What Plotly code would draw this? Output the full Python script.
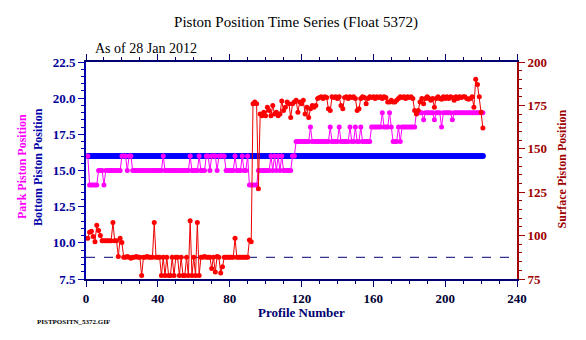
import plotly.graph_objects as go

# Profile numbers 1..221
profiles = list(range(1, 222))

# Park piston position (left axis)
park = [
    16, 14, 14, 14, 14, 14, 15, 15, 15, 14,
    15, 15, 15, 15, 15, 15, 15, 15, 15, 16,
    16, 16, 15, 16, 16, 15, 15, 15, 15, 15,
    15, 15, 15, 15, 15, 15, 15, 15, 15, 15,
    15, 15, 16, 15, 15, 15, 15, 15, 15, 15,
    15, 15, 15, 15, 15, 15, 15, 16, 15, 15,
    15, 15, 16, 15, 15, 15, 16, 16, 15, 16,
    16, 16, 15, 16, 16, 16, 16, 15, 15, 15,
    15, 15, 16, 15, 15, 15, 16, 15, 15, 16,
    14, 14, 14, 14, 14, 15, 15, 15, 15, 15,
    15, 15, 16, 15, 16, 15, 16, 15, 16, 15,
    15, 15, 15, 15, 16, 16, 17, 17, 17, 17,
    17, 17, 17, 17, 18, 17, 17, 17, 17, 17,
    17, 17, 17, 17, 17, 18, 17, 17, 17, 17,
    18, 17, 17, 17, 17, 17, 18, 17, 17, 18,
    17, 17, 18, 17, 17, 17, 17, 17, 18, 18,
    18, 18, 18, 18, 19, 18, 18, 18, 19, 18,
    17, 17, 17, 18, 17, 18, 18, 18, 18, 18,
    18, 18, 18, 19, 19, 19, 19, 18.5, 19, 19,
    19, 19, 19, 18.5, 19, 19, 19, 18, 19, 19,
    19, 19, 19, 18.5, 19, 19, 19, 19, 19, 19,
    19, 19, 19, 19, 19, 19, 19, 19, 19, 19,
    19,
]

# Bottom piston position (left axis)
bottom = [
    16, 16, 16, 16, 16, 16, 16, 16, 16, 16, 16, 16, 16, 16, 16, 16, 16,
    16, 16, 16, 16, 16, 16, 16, 16, 16, 16, 16, 16, 16, 16, 16, 16, 16,
    16, 16, 16, 16, 16, 16, 16, 16, 16, 16, 16, 16, 16, 16, 16, 16, 16,
    16, 16, 16, 16, 16, 16, 16, 16, 16, 16, 16, 16, 16, 16, 16, 16, 16,
    16, 16, 16, 16, 16, 16, 16, 16, 16, 16, 16, 16, 16, 16, 16, 16, 16,
    16, 16, 16, 16, 16, 16, 16, 16, 16, 16, 16, 16, 16, 16, 16, 16, 16,
    16, 16, 16, 16, 16, 16, 16, 16, 16, 16, 16, 16, 16, 16, 16, 16, 16,
    16, 16, 16, 16, 16, 16, 16, 16, 16, 16, 16, 16, 16, 16, 16, 16, 16,
    16, 16, 16, 16, 16, 16, 16, 16, 16, 16, 16, 16, 16, 16, 16, 16, 16,
    16, 16, 16, 16, 16, 16, 16, 16, 16, 16, 16, 16, 16, 16, 16, 16, 16,
    16, 16, 16, 16, 16, 16, 16, 16, 16, 16, 16, 16, 16, 16, 16, 16, 16,
    16, 16, 16, 16, 16, 16, 16, 16, 16, 16, 16, 16, 16, 16, 16, 16, 16,
    16, 16, 16, 16, 16, 16, 16, 16, 16, 16, 16, 16, 16, 16, 16, 16, 16,
]

# Surface piston position (right axis)
surface = [
    98.5, 102, 102.5, 99.5, 96.5, 106, 103, 100, 97, 97,
    97, 97, 97, 97, 107.5, 97, 97, 88, 98.5, 96,
    87.5, 87.5, 88, 87.5, 87, 87.5, 87.5, 88, 87.5, 87.5,
    77, 87.5, 87.5, 88, 87.5, 87.5, 87.5, 107.5, 87.5, 87.5,
    87.5, 77, 87.5, 77, 87.5, 77, 77, 87.5, 77, 87.5,
    87.5, 77, 87.5, 77, 77, 87.5, 77, 108.5, 77, 87.5,
    77, 107.5, 77, 87.5, 87.5, 88, 87.5, 87.5, 87.5, 81,
    87.5, 79, 88, 87.5, 78.5, 82, 87.5, 87.5, 87.5, 87.5,
    87.5, 87.5, 98.5, 87.5, 87.5, 87.5, 87.5, 87.5, 87.5, 87.5,
    97.5, 96.5, 176, 177, 176, 127, 170, 169, 171, 169,
    174, 172, 169, 175, 170, 171, 169, 170, 177.5, 172,
    174, 177, 176, 168, 176, 177, 178, 171, 177, 176,
    178, 170, 174, 168, 173, 175, 174, 175, 179, 179.5,
    180, 179, 180, 179.5, 173, 172, 180, 179.5, 180, 179,
    180, 175, 173, 179.5, 180, 179, 180, 179.5, 180, 179,
    172, 173, 179, 180, 179.5, 176, 179, 180, 179.5, 180,
    179, 180, 179.5, 180, 179, 180, 179.5, 177, 177, 178,
    177, 177, 178, 179, 180, 179.5, 180, 179, 180, 179.5,
    180, 179, 172, 170, 172, 177, 179, 176, 179, 180,
    179, 178, 179, 174, 179, 180, 179, 178.5, 180, 179,
    180, 179, 180, 179.5, 178, 180, 179, 180, 179.5, 180,
    180, 179, 178.5, 179, 180, 174, 190, 187, 180, 171,
    162,
]

# Reference level drawn as a dashed line (left axis units)
ref_level = 9.0
x_range = [0, 240]

SERIF = "Liberation Serif"
NAVY = "#000070"
BLUE_AX = "#0000B0"
RED_AX = "#A00000"

fig = go.Figure()

fig.add_trace(go.Scatter(
    x=x_range, y=[ref_level, ref_level], mode="lines",
    line=dict(color=NAVY, width=1, dash="dash"), hoverinfo="skip",
    showlegend=False,
))

fig.add_trace(go.Scatter(
    x=profiles, y=bottom, mode="lines+markers",
    line=dict(color="#0000FF", width=2),
    marker=dict(color="#0000FF", size=6, symbol="circle"),
    showlegend=False, name="Bottom Piston Position",
))

fig.add_trace(go.Scatter(
    x=profiles, y=park, mode="lines+markers",
    line=dict(color="#FF00FF", width=1),
    marker=dict(color="#FF00FF", size=5, symbol="circle"),
    showlegend=False, name="Park Piston Position",
))

fig.add_trace(go.Scatter(
    x=profiles, y=surface, mode="lines+markers", yaxis="y2",
    line=dict(color="#EE0000", width=1),
    marker=dict(color="#FF0000", size=5, symbol="circle"),
    showlegend=False, name="Surface Piston Position",
))

tick_font = dict(family=SERIF, size=13, weight="bold")

fig.update_layout(
    width=586, height=340,
    margin=dict(l=86, r=69, t=62, b=61),
    paper_bgcolor="white", plot_bgcolor="white",
    font=dict(family=SERIF, color=NAVY),
    title=dict(
        text="Piston Position Time Series (Float 5372)",
        x=296 / 586, xanchor="center", y=1 - 22 / 340, yanchor="middle",
        font=dict(family=SERIF, size=15, color="#000000"),
    ),
    xaxis=dict(
        range=x_range, dtick=40, tick0=0,
        showgrid=False, zeroline=False,
        showline=True, linecolor=NAVY, linewidth=2, mirror="ticks",
        ticks="outside", ticklen=6, tickwidth=1, tickcolor=NAVY,
        minor=dict(dtick=10, ticklen=3, tickcolor=NAVY, ticks="outside"),
        tickfont=dict(tick_font, color="#000033"),
    ),
    yaxis=dict(
        range=[7.5, 22.5], dtick=2.5, tick0=7.5, tickformat=".1f",
        showgrid=False, zeroline=False,
        showline=True, linecolor=BLUE_AX, linewidth=2,
        ticks="outside", ticklen=6, tickwidth=1, tickcolor=BLUE_AX,
        minor=dict(dtick=0.5, ticklen=3, tickcolor=BLUE_AX, ticks="outside"),
        tickfont=dict(tick_font, color="#000099"),
    ),
    yaxis2=dict(
        range=[75, 200], dtick=25, tick0=75,
        overlaying="y", side="right",
        showgrid=False, zeroline=False,
        showline=True, linecolor=RED_AX, linewidth=2,
        ticks="outside", ticklen=6, tickwidth=1, tickcolor=RED_AX,
        minor=dict(dtick=5, ticklen=3, tickcolor=RED_AX, ticks="outside"),
        tickfont=dict(tick_font, color=RED_AX),
    ),
)

annotations = [
    dict(text="As of 28 Jan 2012", x=0.016, y=1.064, xanchor="left",
         yanchor="middle",
         font=dict(family=SERIF, size=14, color="#000000")),
    dict(text="<b>Park Piston Position</b>", x=(22 - 86) / 431, y=0.516,
         textangle=-90, xanchor="center", yanchor="middle",
         font=dict(family=SERIF, size=12, color="#FF00FF")),
    dict(text="<b>Bottom Piston Position</b>", x=(38 - 86) / 431, y=0.516,
         textangle=-90, xanchor="center", yanchor="middle",
         font=dict(family=SERIF, size=12, color="#0000AA")),
    dict(text="<b>Surface Piston Position</b>", x=(562 - 86) / 431, y=0.505,
         textangle=-90, xanchor="center", yanchor="middle",
         font=dict(family=SERIF, size=12, color=RED_AX)),
    dict(text="<b>Profile Number</b>", x=(301 - 86) / 431, y=(279 - 312) / 217,
         xanchor="center", yanchor="middle",
         font=dict(family=SERIF, size=13, color=NAVY)),
    dict(text="<b>PISTPOSITN_5372.GIF</b>", x=(35 - 86) / 431,
         y=(279 - 322) / 217, xanchor="left", yanchor="middle",
         font=dict(family=SERIF, size=7, color="#000000")),
]
for a in annotations:
    a.update(xref="paper", yref="paper", showarrow=False)
fig.update_layout(annotations=annotations)

fig.write_html("out.html")
